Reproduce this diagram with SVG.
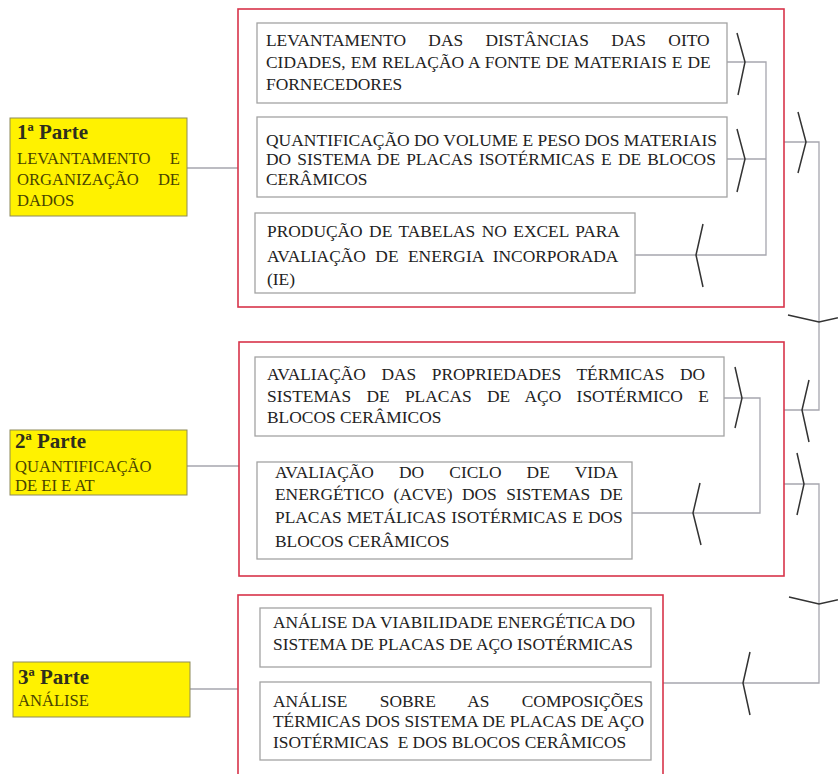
<svg xmlns="http://www.w3.org/2000/svg" width="838" height="774" viewBox="0 0 838 774">
<style>
.frame{fill:none;stroke:#d8344a;stroke-width:1.6}
.box{fill:#fff;stroke:#a3a3a3;stroke-width:1.3}
.ybox{fill:#fff200;stroke:#8d8a5a;stroke-width:1}
.conn{fill:none;stroke:#a6a6ae;stroke-width:1.3}
.chev{fill:none;stroke:#333;stroke-width:1.5}
.t{font-family:"Liberation Serif","Times New Roman",serif;font-size:17.4px;fill:#222}
.yt{font-family:"Liberation Serif","Times New Roman",serif;font-size:16.6px;fill:#4a4400}
.yh{font-family:"Liberation Serif","Times New Roman",serif;font-size:21px;font-weight:bold;fill:#2e2e1e}
.e{text-anchor:end}
</style>
<rect width="838" height="774" fill="#fff"/>

<g id="connectors">
<path class="conn" d="M187,168 H238"/>
<path class="conn" d="M187,466 H239"/>
<path class="conn" d="M190,689 H238"/>
<path class="conn" d="M727,62 H766 V255 H635 M727,159 H766"/>
<path class="conn" d="M784,142 H819 V410 H784"/>
<path class="conn" d="M724,398 H760 V513 H632"/>
<path class="conn" d="M784,484 H819 V683 H663"/>
<polyline class="chev" points="737,33 745,62 738,95"/>
<polyline class="chev" points="737,129 745,159 737,192"/>
<polyline class="chev" points="703,224 696,255 703,287"/>
<polyline class="chev" points="798,112 806,142 798,173"/>
<polyline class="chev" points="788,315 819,322 850,315"/>
<polyline class="chev" points="809,380 802,410 809,442"/>
<polyline class="chev" points="735,367 742,398 735,428"/>
<polyline class="chev" points="700,483 693,513 701,545"/>
<polyline class="chev" points="797,453 804,484 797,515"/>
<polyline class="chev" points="789,597 819,604 850,597"/>
<polyline class="chev" points="750,652 743,683 750,715"/>
</g>

<g id="frame1"><rect class="frame" x="238" y="9" width="546" height="298"/></g>
<g id="frame2"><rect class="frame" x="239" y="342" width="545" height="234"/></g>
<g id="frame3"><rect class="frame" x="238" y="595" width="425" height="195"/></g>

<g id="parte1">
<rect class="ybox" x="10" y="118" width="177" height="98"/>
<text class="yh" x="17" y="139">1ª Parte</text>
<text class="yt" x="17" y="164">LEVANTAMENTO</text><text class="yt e" x="180" y="164">E</text>
<text class="yt" x="17" y="185">ORGANIZAÇÃO</text><text class="yt e" x="180" y="185">DE</text>
<text class="yt" x="17" y="206">DADOS</text>
</g>

<g id="parte2">
<rect class="ybox" x="10" y="430" width="177" height="65"/>
<text class="yh" x="15" y="448">2ª Parte</text>
<text class="yt" x="15" y="472">QUANTIFICAÇÃO</text>
<text class="yt" x="15" y="491">DE EI E AT</text>
</g>

<g id="parte3">
<rect class="ybox" x="13" y="662" width="177" height="55"/>
<text class="yh" x="18" y="684">3ª Parte</text>
<text class="yt" x="18" y="706">ANÁLISE</text>
</g>

<g id="boxA">
<rect class="box" x="257" y="23" width="470" height="80"/>
<text class="t" x="266" y="46" style="word-spacing:18px">LEVANTAMENTO DAS DISTÂNCIAS DAS OITO</text>
<text class="t" x="266" y="68" style="word-spacing:0.7px">CIDADES, EM RELAÇÃO A FONTE DE MATERIAIS E DE</text>
<text class="t" x="266" y="90">FORNECEDORES</text>
</g>

<g id="boxB">
<rect class="box" x="257" y="117" width="470" height="80"/>
<text class="t" x="266" y="146" textLength="451" lengthAdjust="spacingAndGlyphs">QUANTIFICAÇÃO DO VOLUME E PESO DOS MATERIAIS</text>
<text class="t" x="266" y="165" style="word-spacing:1.8px">DO SISTEMA DE PLACAS ISOTÉRMICAS E DE BLOCOS</text>
<text class="t" x="266" y="185">CERÂMICOS</text>
</g>

<g id="boxC">
<rect class="box" x="255" y="213" width="380" height="80"/>
<text class="t" x="267" y="237" style="word-spacing:2.1px">PRODUÇÃO DE TABELAS NO EXCEL PARA</text>
<text class="t" x="267" y="262" style="word-spacing:5.1px">AVALIAÇÃO DE ENERGIA INCORPORADA</text>
<text class="t" x="267" y="285">(IE)</text>
</g>

<g id="boxD">
<rect class="box" x="255" y="357" width="469" height="79"/>
<text class="t" x="267" y="380" style="word-spacing:11.2px">AVALIAÇÃO DAS PROPRIEDADES TÉRMICAS DO</text>
<text class="t" x="267" y="402" style="word-spacing:11px">SISTEMAS DE PLACAS DE AÇO ISOTÉRMICO E</text>
<text class="t" x="267" y="423">BLOCOS CERÂMICOS</text>
</g>

<g id="boxE">
<rect class="box" x="257" y="462" width="375" height="97"/>
<text class="t" x="275" y="478" style="word-spacing:20.8px">AVALIAÇÃO DO CICLO DE VIDA</text>
<text class="t" x="275" y="500" style="word-spacing:5.1px">ENERGÉTICO (ACVE) DOS SISTEMAS DE</text>
<text class="t" x="275" y="523" style="word-spacing:0.7px">PLACAS METÁLICAS ISOTÉRMICAS E DOS</text>
<text class="t" x="275" y="547">BLOCOS CERÂMICOS</text>
</g>

<g id="boxF">
<rect class="box" x="260" y="608" width="391" height="59"/>
<text class="t" x="273" y="628">ANÁLISE DA VIABILIDADE ENERGÉTICA DO</text>
<text class="t" x="273" y="650">SISTEMA DE PLACAS DE AÇO ISOTÉRMICAS</text>
</g>

<g id="boxG">
<rect class="box" x="260" y="682" width="391" height="78"/>
<text class="t" x="273" y="707" style="word-spacing:28px">ANÁLISE SOBRE AS COMPOSIÇÕES</text>
<text class="t" x="273" y="727">TÉRMICAS DOS SISTEMA DE PLACAS DE AÇO</text>
<text class="t" x="273" y="748" style="white-space:pre">ISOTÉRMICAS  E DOS BLOCOS CERÂMICOS</text>
</g>
</svg>
